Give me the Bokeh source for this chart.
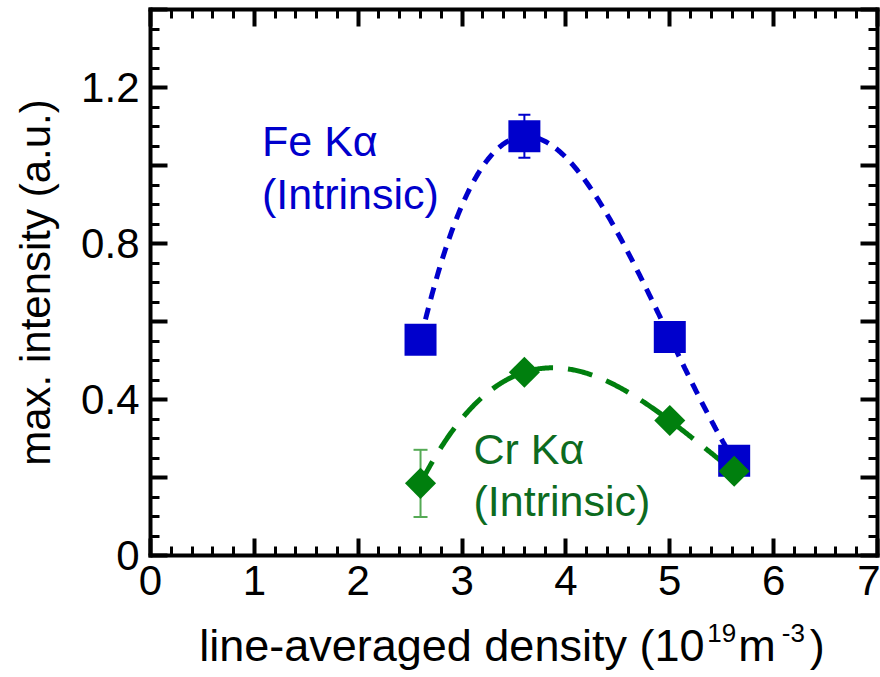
import numpy as np
from bokeh.plotting import figure
from bokeh.layouts import column
from bokeh.models import (LinearAxis, FixedTicker, CustomJSTickFormatter,
                          Label, Range1d, ColumnDataSource, Whisker, TeeHead)
from bokeh.embed import file_html
from bokeh.resources import INLINE

# ---------------- data ----------------
density = [2.6, 3.6, 5.0, 5.62]            # 10^19 m^-3
fe_intensity = [0.553, 1.075, 0.56, 0.243]
fe_err = [0.0, 0.055, 0.0, 0.0]
cr_intensity = [0.185, 0.47, 0.346, 0.216]
cr_err = [0.086, 0.0, 0.0, 0.0]

x_major = [0, 1, 2, 3, 4, 5, 6, 7]
y_major = [0, 0.2, 0.4, 0.6, 0.8, 1.0, 1.2, 1.4]
y_labelled = [0, 0.4, 0.8, 1.2]
y_label_text = ["0", "0.4", "0.8", "1.2"]

fe_name = ["Fe K\u03b1", "(Intrinsic)"]
cr_name = ["Cr K\u03b1", "(Intrinsic)"]
x_title = [("line-averaged density (10", "main"), ("19", "sup"),
           ("m", "main"), ("-3", "sup"), (")", "main")]

# ---------------- style ----------------
BLUE = "#0000cc"
GREEN = "#007f0e"
GREEN_TXT = "#0d6b1f"
GREEN_ERR = "#55aa55"
FONT = "Liberation Sans"
SHIFT_EM = 0.395        # correction of label baseline placement (em)

W, H = 880, 677
FW, FH = 727, 546
ML, MR, MT, MB = 150, 3, 9, 60
QH = H - (MT + FH + MB)

p = figure(frame_width=FW, frame_height=FH,
           min_border_left=ML, min_border_right=MR,
           min_border_top=MT, min_border_bottom=MB,
           x_range=Range1d(0, 7), y_range=Range1d(0, 1.4),
           x_axis_location=None, y_axis_location=None,
           output_backend="svg", toolbar_location=None)
p.outline_line_color = None
p.background_fill_color = "white"
p.border_fill_color = "white"
for g in p.grid:
    g.visible = False

x_ticker = FixedTicker(ticks=x_major,
                       minor_ticks=list(np.round(np.arange(0, 7.001, 0.2), 3)))
y_ticker = FixedTicker(ticks=y_major,
                       minor_ticks=list(np.round(np.arange(0, 1.401, 0.05), 3)))

y_fmt = CustomJSTickFormatter(args=dict(shown=y_labelled, names=y_label_text), code="""
for (let i = 0; i < shown.length; i++) {
  if (Math.abs(tick - shown[i]) < 1e-6) return names[i];
}
return "";
""")
x_fmt = CustomJSTickFormatter(code="return String(Math.round(tick));")
blank_fmt = CustomJSTickFormatter(code="return '';")


def style(ax, labels=True):
    ax.axis_line_width = 4
    ax.axis_line_cap = "square"
    ax.major_tick_line_width = 4
    ax.minor_tick_line_width = 3
    ax.major_tick_in = 17
    ax.major_tick_out = 0
    ax.minor_tick_in = 9
    ax.minor_tick_out = 0
    ax.major_label_text_font = FONT
    ax.major_label_text_color = "black"
    if labels:
        ax.major_label_text_font_size = "42px"
        ax.major_label_standoff = 11
    else:
        ax.major_label_text_font_size = "1px"
        ax.major_label_standoff = 0
    return ax


bottom = style(LinearAxis(ticker=x_ticker, formatter=x_fmt))
bottom.major_label_standoff = 10
top = style(LinearAxis(ticker=x_ticker, formatter=blank_fmt), labels=False)
left = style(LinearAxis(ticker=y_ticker, formatter=y_fmt,
                        axis_label="max. intensity (a.u.)"))
left.axis_label_text_font = FONT
left.axis_label_text_font_size = "42px"
left.axis_label_text_font_style = "normal"
left.axis_label_text_color = "black"
left.axis_label_standoff = 19
right = style(LinearAxis(ticker=y_ticker, formatter=blank_fmt), labels=False)

p.add_layout(bottom, "below")
p.add_layout(top, "above")
p.add_layout(left, "left")
p.add_layout(right, "right")

# ---------------- fitted guide curves ----------------
xs = np.linspace(density[0], density[-1], 300)
fe_fit = np.polyval(np.polyfit(density, fe_intensity, 3), xs)
cr_fit = np.polyval(np.polyfit(density, cr_intensity, 3), xs)
p.line(xs, fe_fit, line_color=BLUE, line_width=5, line_dash="12 9")
p.line(xs, cr_fit, line_color=GREEN, line_width=5, line_dash="25 15")

# ---------------- error bars ----------------
def err_source(vals, errs):
    xx = [d for d, e in zip(density, errs) if e > 0]
    lo = [v - e for v, e in zip(vals, errs) if e > 0]
    hi = [v + e for v, e in zip(vals, errs) if e > 0]
    return ColumnDataSource(dict(x=xx, lo=lo, hi=hi))

for vals, errs, col, cap in [(fe_intensity, fe_err, BLUE, 12),
                             (cr_intensity, cr_err, GREEN_ERR, 14)]:
    w = Whisker(base="x", lower="lo", upper="hi", source=err_source(vals, errs),
                line_color=col, line_width=2,
                upper_head=TeeHead(size=cap, line_color=col, line_width=2),
                lower_head=TeeHead(size=cap, line_color=col, line_width=2))
    p.add_layout(w)

# ---------------- markers ----------------
p.scatter(density, fe_intensity, marker="square", size=32,
          fill_color=BLUE, line_color=BLUE, line_width=0)
p.scatter(density, cr_intensity, marker="square", angle=np.pi / 4, size=22,
          fill_color=GREEN, line_color=GREEN, line_width=0)

# ---------------- annotations ----------------
def px_to_x(px):
    return (px - ML) / (FW / 7.0)

def py_to_y(py, size):
    return (MT + FH - (py - SHIFT_EM * size)) / (FH / 1.4)

for text, py in zip(fe_name, [157, 210]):
    p.add_layout(Label(x=px_to_x(261.5), y=py_to_y(py, 43), text=text,
                       text_font=FONT, text_font_size="43px",
                       text_color=BLUE, text_baseline="alphabetic"))
for text, py in zip(cr_name, [465, 517]):
    p.add_layout(Label(x=px_to_x(473), y=py_to_y(py, 43), text=text,
                       text_font=FONT, text_font_size="43px",
                       text_color=GREEN_TXT, text_baseline="alphabetic"))

# ---------------- x-axis title strip (own figure, frame aligned with p) ------
q = figure(frame_width=FW, frame_height=QH,
           min_border_left=ML, min_border_right=MR,
           min_border_top=0, min_border_bottom=0,
           x_range=Range1d(ML, ML + FW), y_range=Range1d(0, QH),
           x_axis_location=None, y_axis_location=None,
           output_backend="svg", toolbar_location=None)
q.outline_line_color = None
q.border_fill_color = "white"
q.background_fill_color = "white"
for g in q.grid:
    g.visible = False

ADV = {'l': 222, 'i': 222, 'n': 556, 'e': 556, '-': 333, 'a': 556, 'v': 500,
       'r': 333, 'g': 556, 'd': 556, 's': 500, 't': 278, 'y': 500, ' ': 278,
       '(': 333, ')': 333, '1': 556, '9': 556, '0': 556, 'm': 833, '3': 556}
SIZES = {"main": 45, "sup": 26}
RISE = {"main": 0, "sup": 20}
GAPS = [0, 3, 2, 6, 5]

def width(s, size):
    return sum(ADV.get(c, 556) for c in s) / 1000.0 * size

total = sum(width(t, SIZES[k]) for t, k in x_title) + sum(GAPS)
pos = ML + FW / 2.0 - total / 2.0 - 2
base_py = 663
for (t, k), g in zip(x_title, GAPS):
    pos += g
    s = SIZES[k]
    yq = H - (base_py - RISE[k] - SHIFT_EM * s)
    q.add_layout(Label(x=pos, y=yq, text=t, text_font=FONT,
                       text_font_size=f"{s}px", text_color="black",
                       text_baseline="alphabetic"))
    pos += width(t, s)

layout = column(p, q, spacing=0)
open("out.html", "w").write(file_html(layout, INLINE))
